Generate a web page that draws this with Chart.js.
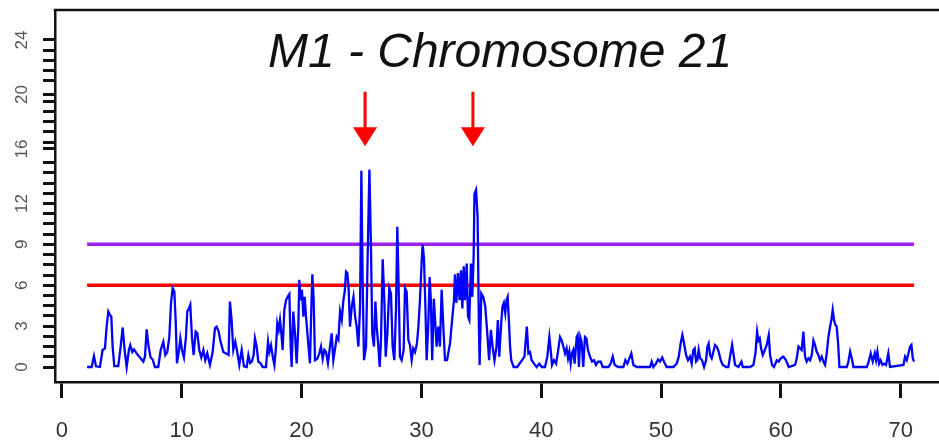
<!DOCTYPE html>
<html>
<head>
<meta charset="utf-8">
<script src="https://cdn.jsdelivr.net/npm/chart.js@4.4.1/dist/chart.umd.min.js"></script>
<style>
  html, body { margin: 0; padding: 0; background: #fff; }
  canvas { display: block; }
</style>
</head>
<body>
<canvas id="lodChart" width="939" height="447"></canvas>
<script>
// map position (cM) and LOD score
const positionCM = [
  2.1, 2.48, 2.67, 2.84, 3.17, 3.39, 3.59, 3.73, 3.87, 4.01,
  4.12, 4.23, 4.37, 4.7, 4.9, 5.07, 5.23, 5.4, 5.59, 5.7,
  5.87, 6.01, 6.23, 6.51, 6.79, 6.93, 7.07, 7.23, 7.4, 7.57,
  7.76, 8.04, 8.24, 8.46, 8.63, 8.79, 8.96, 9.1, 9.24, 9.38,
  9.49, 9.6, 9.77, 9.88, 10.02, 10.18, 10.35, 10.46, 10.6, 10.71,
  10.85, 10.99, 11.16, 11.3, 11.46, 11.63, 11.8, 11.96, 12.13, 12.35,
  12.58, 12.77, 12.91, 13.08, 13.24, 13.47, 13.69, 13.91, 14.02, 14.16,
  14.3, 14.47, 14.63, 14.8, 15.0, 15.19, 15.42, 15.56, 15.7, 15.85,
  16.0, 16.11, 16.25, 16.39, 16.58, 16.75, 17.03, 17.2, 17.31, 17.45,
  17.59, 17.73, 17.87, 17.97, 18.09, 18.2, 18.31, 18.42, 18.56, 18.7,
  18.84, 18.98, 19.09, 19.17, 19.31, 19.45, 19.59, 19.73, 19.81, 19.92,
  20.03, 20.15, 20.26, 20.37, 20.53, 20.7, 20.81, 20.9, 21.01, 21.12,
  21.31, 21.48, 21.62, 21.76, 21.9, 22.04, 22.2, 22.37, 22.51, 22.65,
  22.82, 22.93, 23.07, 23.21, 23.35, 23.49, 23.6, 23.71, 23.82, 23.93,
  24.04, 24.19, 24.33, 24.47, 24.6, 24.74, 24.88, 24.99, 25.09, 25.21,
  25.38, 25.51, 25.66, 25.79, 25.9, 26.04, 26.16, 26.27, 26.41, 26.52,
  26.63, 26.77, 26.91, 27.02, 27.16, 27.32, 27.46, 27.6, 27.74, 27.88,
  27.99, 28.1, 28.21, 28.35, 28.52, 28.63, 28.77, 28.91, 29.05, 29.19,
  29.32, 29.47, 29.63, 29.75, 29.88, 30.03, 30.11, 30.22, 30.34, 30.44,
  30.57, 30.69, 30.79, 30.9, 31.04, 31.16, 31.27, 31.41, 31.55, 31.69,
  31.83, 31.97, 32.14, 32.39, 32.59, 32.72, 32.8, 32.92, 33.05, 33.19,
  33.3, 33.42, 33.53, 33.64, 33.78, 33.89, 34.0, 34.14, 34.25, 34.36,
  34.43, 34.56, 34.69, 34.8, 34.86, 35.0, 35.16, 35.33, 35.5, 35.65,
  35.8, 35.94, 36.1, 36.27, 36.38, 36.5, 36.66, 36.77, 36.88, 37.0,
  37.1, 37.2, 37.3, 37.4, 37.5, 37.7, 38.0, 38.4, 38.6, 38.8,
  38.93, 39.07, 39.2, 39.4, 39.62, 39.84, 40.04, 40.32, 40.51, 40.68,
  40.79, 40.9, 41.07, 41.24, 41.4, 41.57, 41.71, 41.85, 41.99, 42.12,
  42.24, 42.35, 42.46, 42.57, 42.68, 42.79, 42.96, 43.04, 43.15, 43.26,
  43.37, 43.51, 43.65, 43.77, 43.9, 44.07, 44.24, 44.41, 44.57, 44.74,
  44.97, 45.13, 45.61, 45.8, 45.97, 46.13, 46.44, 46.86, 47.02, 47.19,
  47.36, 47.52, 47.69, 47.97, 49.08, 49.22, 49.36, 49.58, 49.75, 49.92,
  50.1, 50.3, 50.47, 51.03, 51.31, 51.48, 51.64, 51.78, 51.92, 52.09,
  52.25, 52.42, 52.56, 52.7, 52.81, 52.92, 53.03, 53.14, 53.26, 53.42,
  53.59, 53.76, 53.87, 53.98, 54.09, 54.23, 54.37, 54.51, 54.65, 54.81,
  54.98, 55.15, 55.43, 55.62, 55.76, 55.93, 56.04, 56.18, 56.46, 56.71,
  56.82, 57.43, 57.71, 57.88, 58.02, 58.13, 58.24, 58.35, 58.49, 58.66,
  58.82, 58.99, 59.1, 59.27, 59.43, 59.66, 59.82, 59.99, 60.21, 60.43,
  60.66, 61.19, 61.33, 61.47, 61.61, 61.74, 61.88, 62.02, 62.16, 62.3,
  62.44, 62.58, 62.72, 62.85, 62.99, 63.13, 63.27, 63.41, 63.55, 63.69,
  63.83, 63.97, 64.11, 64.22, 64.33, 64.44, 64.55, 64.66, 64.78, 64.89,
  65.5, 65.64, 65.78, 65.92, 66.06, 67.17, 67.33, 67.5, 67.67, 67.84,
  67.95, 68.06, 68.2, 68.33, 68.48, 68.62, 68.78, 68.97, 69.11, 70.23,
  70.37, 70.51, 70.65, 70.79, 70.9, 71.01, 71.12
];
const lodScore = [
  0, 0, 0.81, 0.05, 0, 1.25, 1.37, 2.97, 4.07, 3.82,
  3.7, 1.5, 0.06, 0.06, 1.5, 2.9, 1.25, 0, 1.25, 1.6,
  1.1, 1.3, 1.0, 0.7, 0.4, 0.76, 2.77, 1.5, 0.7, 0.55,
  0, 0, 1.25, 1.85, 0.88, 1.1, 2.2, 4.68, 5.78, 5.54,
  3.45, 0.27, 1.25, 2.1, 1.25, 0.7, 2.2, 4.07, 4.3, 4.56,
  2.2, 0.88, 2.6, 2.47, 1.25, 0.7, 1.25, 0.5, 1.0, 0.15,
  1.1, 2.84, 2.96, 2.6, 1.86, 1.1, 1.0, 0.88, 4.8, 3.45,
  1.25, 1.86, 1.1, 0.15, 1.25, 0.05, 0, 0.88, 0.3, 0.4,
  0.9, 2.1, 1.5, 0.4, 0.27, 0, 0, 1.86, 1.1, 1.6,
  0.76, 0.15, 1.5, 3.2, 2.72, 3.45, 2.47, 1.25, 4.2, 4.9,
  5.15, 5.35, 1.5, 0, 4.07, 2.47, 0.27, 2.96, 6.4, 4.9,
  5.66, 3.7, 5.15, 3.7, 2.0, 0.27, 4.2, 6.8, 4.9, 0.5,
  0.6, 1.0, 1.5, 0.6, 1.25, 1.1, 0.27, 1.5, 2.47, 0.5,
  1.5, 2.22, 2.0, 4.07, 3.45, 4.9, 5.54, 7.0, 6.9, 5.66,
  2.96, 4.44, 5.15, 3.7, 2.96, 1.5, 4.44, 14.4, 6.6, 0.5,
  1.5, 7.9, 14.5, 8.85, 2.47, 1.5, 4.8, 2.96, 1.5, 0,
  2.0, 7.9, 4.9, 0.76, 2.47, 5.8, 5.4, 1.5, 0.5, 4.2,
  10.3, 5.9, 0.76, 0.5, 1.25, 5.8, 5.5, 2.0, 1.6, 0.5,
  1.37, 1.1, 1.75, 2.96, 4.9, 7.9, 9.0, 7.9, 4.2, 0.5,
  2.96, 6.6, 4.9, 0.5, 5.0, 3.2, 1.5, 2.96, 1.5, 5.66,
  2.96, 0.5, 0.5, 1.75, 3.7, 4.9, 6.8, 4.7, 6.9, 4.9,
  7.1, 4.3, 7.4, 4.9, 7.6, 3.7, 3.45, 7.6, 5.15, 8.1,
  12.7, 13.0, 11.05, 3.0, 0.15, 5.4, 5.15, 4.44, 2.47, 0.5,
  2.72, 1.5, 0.5, 1.5, 3.45, 0.76, 3.2, 4.44, 4.7, 3.95,
  4.9, 5.15, 3.45, 1.5, 0.5, 0, 0, 0.5, 0.76, 2.96,
  1.0, 1.1, 0.5, 0.25, 0, 0.25, 0, 0, 0.76, 2.2,
  1.25, 0.15, 0.5, 0.25, 1.13, 2.2, 1.95, 1.5, 1.0, 1.37,
  0.64, 1.13, 0.25, 1.0, 1.25, 0.25, 2.2, 2.35, 0, 2.2,
  1.86, 0, 2.2, 2.1, 1.25, 0.76, 0.4, 0.5, 0.15, 0.4,
  0.4, 0, 0, 0.25, 0.76, 0.15, 0, 0, 0.5, 0.25,
  0.64, 1.0, 0.15, 0, 0, 0.4, 0, 0.25, 0.55, 0.4,
  0.7, 0.3, 0, 0, 0.25, 0.76, 1.74, 2.35, 1.74, 0.88,
  0.5, 0.76, 0.25, 1.25, 1.37, 0.4, 0.5, 1.25, 0.64, 0.5,
  0, 0.5, 1.5, 1.74, 0.88, 0.64, 1.13, 1.62, 1.5, 1.13,
  0.5, 0.15, 0, 0, 0.76, 1.62, 1.0, 0.15, 0, 0.4,
  0, 0, 0.15, 1.0, 2.6, 1.95, 2.1, 1.37, 0.88, 1.25,
  1.62, 2.35, 0.88, 0.15, 0, 0.5, 0.4, 0.64, 0.76, 0.5,
  0, 0.15, 0.64, 1.5, 1.37, 1.25, 2.6, 0.76, 0.4, 0.64,
  0.5, 0.88, 1.95, 1.62, 1.13, 0.88, 0.5, 0.76, 0.4, 0.15,
  1.0, 2.2, 2.97, 3.45, 4.19, 3.45, 3.1, 2.97, 1.74, 0,
  0, 0.4, 1.13, 0.64, 0, 0, 0.4, 1.0, 0.4, 1.0,
  0.5, 1.13, 0.25, 0.5, 0.15, 0.25, 0.15, 1.0, 0, 0.15,
  0.76, 0.5, 1.0, 1.5, 1.62, 0.64, 0.4
];

const suggestiveLOD = 6;
const significantLOD = 9;
const arrowAt = [25.3, 34.3];
const xTickLabels = [0, 10, 20, 30, 40, 50, 60, 70];
const yTickLabels = [0, 3, 6, 9, 12, 16, 20, 24];
const chartTitle = 'M1 - Chromosome 21';

// small tick marks every 0.75, with the labelled values put in place
const yMinorTicks = [];
for (let v = 0; v <= 24.001; v += 0.75) {
  const r = Math.round(v * 100) / 100;
  if (r === 15.75 || r === 20.25) continue;
  yMinorTicks.push(r);
}
yMinorTicks.push(16, 20);
yMinorTicks.sort((a, b) => a - b);

const xStart = positionCM[0];
const xEnd = positionCM[positionCM.length - 1];

const overlay = {
  id: 'overlay',
  afterDatasetsDraw(chart) {
    const ctx = chart.ctx;
    const area = chart.chartArea;
    const xs = chart.scales.x;
    const ys = chart.scales.y;
    ctx.save();
    // top edge of the box
    ctx.strokeStyle = '#111';
    ctx.lineWidth = 2.5;
    ctx.beginPath();
    ctx.moveTo(area.left - 1.25, area.top);
    ctx.lineTo(area.right, area.top);
    ctx.stroke();

    // arrows
    ctx.strokeStyle = '#ff0000';
    ctx.fillStyle = '#ff0000';
    ctx.lineWidth = 3;
    arrowAt.forEach(v => {
      const px = xs.getPixelForValue(v);
      const top = ys.getPixelForValue(20.2);
      const tip = ys.getPixelForValue(16.2);
      ctx.beginPath();
      ctx.moveTo(px, top);
      ctx.lineTo(px, tip - 16);
      ctx.stroke();
      ctx.beginPath();
      ctx.moveTo(px - 12, tip - 19);
      ctx.lineTo(px + 12, tip - 19);
      ctx.lineTo(px, tip);
      ctx.closePath();
      ctx.fill();
    });

    // title inside the plot
    ctx.fillStyle = '#111';
    ctx.font = 'italic 48px "Liberation Sans", Arial, sans-serif';
    ctx.textAlign = 'center';
    ctx.textBaseline = 'alphabetic';
    ctx.fillText(chartTitle, 500, 67);
    ctx.restore();
  }
};

const ctx = document.getElementById('lodChart').getContext('2d');
const lodChart = new Chart(ctx, {
  type: 'line',
  data: {
    datasets: [
      {
        label: 'LOD',
        data: positionCM.map((x, i) => ({ x: x, y: lodScore[i] })),
        borderColor: '#0000ff',
        borderWidth: 2.3,
        pointRadius: 0,
        tension: 0
      },
      {
        label: 'significant',
        data: [{ x: xStart, y: significantLOD }, { x: xEnd, y: significantLOD }],
        borderColor: '#a020f0',
        borderWidth: 3.5,
        pointRadius: 0
      },
      {
        label: 'suggestive',
        data: [{ x: xStart, y: suggestiveLOD }, { x: xEnd, y: suggestiveLOD }],
        borderColor: '#ff0000',
        borderWidth: 3.5,
        pointRadius: 0
      }
    ]
  },
  options: {
    responsive: false,
    animation: false,
    devicePixelRatio: 1,
    layout: { padding: { top: 10, right: 0, left: 0, bottom: 0 } },
    plugins: {
      legend: { display: false },
      tooltip: { enabled: false },
      title: { display: false }
    },
    scales: {
      x: {
        type: 'linear',
        min: -0.58,
        max: 73.2,
        afterBuildTicks: s => { s.ticks = xTickLabels.map(v => ({ value: v })); },
        afterFit: s => { s.height = 65; s.paddingLeft = 0; s.paddingRight = 0; },
        grid: { display: true, drawOnChartArea: false, drawTicks: true, tickLength: 16, tickWidth: 3, tickColor: '#111' },
        border: { display: true, color: '#111', width: 2.5 },
        ticks: {
          color: '#333',
          font: { family: '"Liberation Sans", Arial, sans-serif', size: 22 },
          padding: 20,
          maxRotation: 0,
          autoSkip: false
        }
      },
      y: {
        type: 'linear',
        min: -1.1,
        max: 26.2,
        afterBuildTicks: s => { s.ticks = yMinorTicks.map(v => ({ value: v })); },
        afterFit: s => { s.width = 55; s.paddingTop = 0; s.paddingBottom = 0; },
        grid: { display: true, drawOnChartArea: false, drawTicks: true, tickLength: 12, tickWidth: 3, tickColor: '#111' },
        border: { display: true, color: '#111', width: 2.5 },
        ticks: {
          color: '#555',
          font: { family: '"Liberation Sans", Arial, sans-serif', size: 17 },
          minRotation: 90,
          maxRotation: 90,
          crossAlign: 'center',
          padding: 11,
          autoSkip: false,
          callback: v => yTickLabels.includes(v) ? String(v) : ''
        }
      }
    }
  },
  plugins: [overlay]
});
</script>
</body>
</html>
